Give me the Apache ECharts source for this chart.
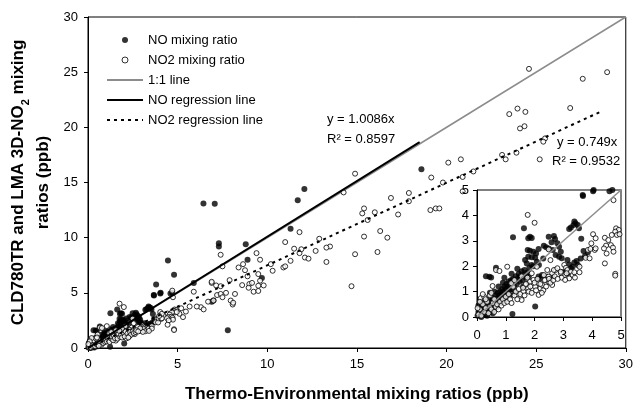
<!DOCTYPE html>
<html><head><meta charset="utf-8">
<script src="https://cdn.jsdelivr.net/npm/echarts@6/dist/echarts.min.js"></script>
<style>html,body{margin:0;padding:0;background:#fff}#c{width:636px;height:408px}</style>
</head><body><div id="c"></div>
<script>
// ---- data ----
var xTicks = [0, 5, 10, 15, 20, 25, 30];
var yTicks = [0, 5, 10, 15, 20, 25, 30];
var insetTicks = [0, 1, 2, 3, 4, 5];
var legendNames = ['NO mixing ratio', 'NO2 mixing ratio', '1:1 line', 'NO regression line', 'NO2 regression line'];
var noEquation = ['y = 1.0086x', 'R\u00b2 = 0.8597'];
var no2Equation = ['y = 0.749x', 'R\u00b2 = 0.9532'];

var noPoints = [
 [18.6,16.2],[12.07,14.4],[11.7,13.4],[6.44,13.1],[7.07,13.07],[11.3,10.8],[7.3,9.5],[7.3,9.2],[8.8,9.4],[8.9,8.0],
 [9.7,6.35],[4.46,7.94],[4.8,6.65],[3.8,5.76],[4.05,5.0],[3.67,4.8],[4.7,5.0],[5.9,5.9],[7.0,4.3],[6.9,4.2],[7.8,1.6],
 [3.68,4.76],[4.03,4.95],[4.6,4.95],[3.38,3.76],[3.42,3.69],[3.35,3.62],[3.5,3.62],[3.26,3.52],[3.2,3.46],[3.54,3.49],[3.62,3.08],
 [1.63,3.49],[1.84,3.16],[1.9,3.11],[1.78,3.1],[1.25,3.14],
 [2.49,3.16],[2.67,3.19],[2.71,3.07],[2.59,2.94],[2.79,2.9],[2.85,2.77],[2.49,2.7],[2.63,2.64],[2.91,2.57],[2.73,2.44],[2.85,2.37],[2.94,2.31],
 [2.14,2.68],[2.32,2.81],[2.4,2.75],[1.76,2.64],[1.84,2.61],[1.96,2.57],[2.05,2.5],
 [1.67,2.24],[1.78,2.37],[1.9,2.35],[2.02,2.33],[1.73,2.11],[1.9,2.05],[2.08,2.18],[1.82,1.94],[1.95,2.0],[2.15,2.05],
 [3.14,2.24],[3.2,2.07],[3.38,2.15],[3.46,2.2],[3.5,2.05],[3.32,1.98],[3.26,1.92],[3.09,1.81],[2.97,1.76],[3.14,1.72],
 [2.61,1.59],[2.44,1.52],[2.55,1.39],[2.08,1.46],[2.14,1.59],[2.2,1.52],[2.26,1.65],
 [0.66,1.94],[0.31,1.6],[0.43,1.58],[0.49,1.56],[2.02,0.41],[1.23,0.12],
 [0.02,0.05],[0.05,0.2],[0.08,0.1],[0.1,0.35],[0.12,0.05],[0.15,0.25],[0.18,0.5],[0.2,0.15],[0.22,0.4],[0.25,0.3],
 [0.28,0.6],[0.3,0.1],[0.32,0.45],[0.35,0.25],[0.38,0.55],[0.4,0.35],[0.42,0.7],[0.45,0.2],[0.48,0.5],[0.5,0.6],
 [0.52,0.4],[0.55,0.75],[0.58,0.5],[0.6,0.3],[0.62,0.65],[0.65,0.85],[0.68,0.55],[0.7,0.75],[0.72,0.95],[0.75,0.6],
 [0.78,0.85],[0.8,1.0],[0.82,0.7],[0.85,0.9],[0.88,1.1],[0.9,0.8],[0.92,1.0],[0.95,1.2],[0.98,0.9],[1.0,1.1],
 [1.02,1.3],[1.05,0.95],[1.08,1.2],[1.1,1.4],[1.12,1.05],[1.15,1.25],[1.18,1.45],[1.2,1.1],[1.22,1.35],[1.25,1.5],
 [1.28,1.2],[1.3,1.4],[1.35,1.6],[1.38,1.3],[1.4,1.5],[1.45,1.7],[1.48,1.4],[1.5,1.6],[1.55,1.8],[1.58,1.45],
 [1.6,1.65],[1.65,1.85],[1.7,1.55],[1.75,1.75],[1.8,1.6],[0.15,0.0],[0.35,0.05],[0.05,0.45],[0.1,0.6],[0.25,0.7],
 [0.6,1.0],[0.45,0.95],[0.75,1.2],[0.9,1.35],[0.55,0.15],[0.7,0.4],[0.85,0.55],[1.0,0.7],[1.15,0.85],[1.3,0.95],
 [1.6,1.2],[1.75,1.3],[3.7,2.6],[3.85,2.55],[3.6,2.3],[3.75,2.4],[1.4,1.9],[1.2,1.7],[0.95,1.55],[2.3,2.3]
];

var no2Points = [
 [24.6,25.3],[27.6,24.4],[28.96,25.0],[23.5,21.2],[23.96,21.7],[24.4,21.4],[26.9,21.75],[24.1,19.9],[24.35,20.1],[25.5,19.0],
 [25.4,18.7],[25.2,17.1],[23.1,17.5],[23.3,17.1],[23.9,17.7],[14.9,15.8],[20.1,16.8],[20.8,17.1],[21.5,16.0],[20.9,15.5],
 [19.15,15.45],[19.8,15.0],[17.9,14.05],[16.9,13.6],[14.26,14.1],[20.9,14.2],[13.5,9.2],[17.9,13.3],[17.3,12.1],[15.3,12.2],
 [15.4,12.65],[16.0,12.3],[15.6,11.6],[15.4,10.1],[16.3,10.6],[16.7,10.0],[14.9,8.5],[16.15,8.7],[14.7,5.6],[19.1,12.5],
 [19.4,12.65],[19.6,12.65],
 [7.4,8.45],[9.4,8.6],[9.6,8.0],[11.0,9.6],[11.8,10.5],[11.5,9.0],[11.8,8.6],[11.9,8.95],[12.1,8.2],[12.3,8.1],
 [12.7,8.8],[12.9,9.9],[13.3,9.1],[13.3,7.8],[11.3,7.9],[10.9,7.3],[11.0,7.4],[10.2,7.6],[10.3,7.0],[8.65,7.6],
 [8.76,7.05],[8.4,7.3],[8.9,6.5],[9.5,6.7],[9.6,6.1],[8.6,5.7],[9.0,5.8],[9.15,5.9],[8.96,5.46],[9.24,5.1],
 [9.5,5.64],[9.5,5.17],[9.8,5.67],[7.9,6.15],[6.9,5.9],[7.15,5.67],[7.4,5.6],[7.2,4.8],[7.4,4.9],[7.7,5.0],
 [7.5,4.6],[7.96,4.3],[8.07,3.94],[8.2,4.9],[7.5,7.4],[5.9,5.1],[6.9,6.0],[4.8,1.7],[6.3,3.7],[6.45,3.5],
 [6.07,3.76],[5.67,3.76],[5.46,3.3],[5.2,3.6],[4.7,5.2],[8.1,4.1],[6.7,4.2],[7.0,4.3],[5.3,2.8],[5.1,3.1],
 [3.85,2.64],[3.94,2.68],[4.09,2.64],[4.12,2.7],[3.77,2.33],[3.91,2.31],[4.74,4.6],[4.03,3.26],[4.12,3.1],[3.97,2.9],
 [4.83,3.49],[4.92,3.43],[4.8,3.36],[4.86,3.23],[4.95,3.26],[4.68,3.23],[4.44,3.12],[4.56,3.03],[4.48,2.81],[4.65,2.83],
 [4.72,2.73],[4.74,2.57],[4.41,2.7],[4.5,2.5],[4.44,2.11],[4.8,1.63],
 [3.03,2.05],[3.09,1.94],[3.14,1.85],[3.26,1.78],[3.32,1.65],[3.03,1.65],[2.91,1.72],[3.11,1.72],[2.94,1.55],[3.2,1.52],
 [3.06,1.46],[3.38,1.76],[3.56,1.98],[3.56,1.76],[2.73,1.85],[2.61,1.72],[2.44,1.59],[2.49,1.39],[2.61,1.26],
 [1.76,4.02],[2.0,3.71],[1.05,1.98],[0.66,1.85],[0.78,1.81],[0.54,1.22],[0.13,0.74],[0.25,0.8],
 [2.49,2.66],[2.55,2.24],[2.44,1.85],[2.32,1.65],[2.49,1.59],[2.38,1.46],[2.14,1.33],[2.2,1.13],[2.26,1.26],[1.84,1.39],
 [1.67,1.26],[1.78,1.13],[1.61,1.0],[1.49,0.8],[1.55,0.67],[1.37,0.87],[1.25,1.19],[1.19,1.33],[1.96,1.46],[2.08,1.98],
 [1.9,1.72],[2.02,1.19],[2.14,0.87],[2.67,1.85],[2.79,1.92],[2.91,1.78],
 [0.05,0.1],[0.1,0.3],[0.15,0.05],[0.2,0.5],[0.25,0.2],[0.3,0.35],[0.35,0.6],[0.4,0.15],[0.45,0.4],[0.5,0.3],
 [0.55,0.55],[0.6,0.7],[0.65,0.4],[0.7,0.5],[0.75,0.3],[0.8,0.6],[0.85,0.45],[0.9,0.7],[0.95,0.55],[1.0,0.8],
 [1.05,0.6],[1.1,0.9],[1.15,0.7],[1.2,0.55],[1.3,0.85],[1.35,1.0],[1.4,0.7],[1.45,1.1],[1.5,0.9],[1.6,1.15],
 [1.65,0.85],[1.7,1.3],[1.8,1.0],[1.85,1.2],[1.9,0.95],[2.0,1.35],[2.05,1.05],[2.1,1.5],[2.2,1.3],[2.3,1.05],
 [2.35,1.45],[2.4,1.2],[2.5,1.5],[2.55,1.35],[2.65,1.45],[2.7,1.6],[2.8,1.5],[0.3,0.7],[0.45,0.85],[0.2,0.9],
 [0.6,0.2],[0.1,0.6],[0.02,0.35],[0.5,0.95],[1.3,1.45],[1.55,1.6],[1.75,1.55],[2.25,0.95],[3.4,1.55]
];

var oneToOneLine = [[0, 0], [30, 30]];
var insetOneToOneLine = [[0, 0], [5, 5]];
var noRegressionLine = [[0, 0], [18.5, 18.66]];
var no2RegressionLine = [[0, 0], [28.6, 21.42]];

// ---- chart ----
var FONT = 'Arial, "Liberation Sans", sans-serif';
var insetNo = noPoints.filter(function (p) { return p[0] <= 5 && p[1] <= 5; });
var insetNo2 = no2Points.filter(function (p) { return p[0] <= 5 && p[1] <= 5; });

var chart = echarts.init(document.getElementById('c'), null, {renderer: 'canvas'});
var hiddenSym = {opacity: 0, color: 'transparent', borderWidth: 0};

var option = {
  animation: false,
  backgroundColor: '#fff',
  textStyle: {fontFamily: FONT},
  grid: [
    {left: 88, top: 17, width: 540, height: 335, show: true, borderColor: '#000', borderWidth: 1, backgroundColor: 'transparent'},
    {left: 477, top: 190, width: 144, height: 127, show: true, borderColor: '#000', borderWidth: 1, backgroundColor: '#fff', z: 5}
  ],
  xAxis: [
    {gridIndex: 0, type: 'value', min: xTicks[0], max: xTicks[xTicks.length - 1], interval: 5,
     splitLine: {show: false}, axisLine: {lineStyle: {color: '#000', width: 1}},
     axisTick: {inside: false, length: 4, lineStyle: {color: '#000'}},
     axisLabel: {color: '#000', fontSize: 13, margin: 10, fontFamily: FONT},
     name: 'Thermo-Environmental mixing ratios (ppb)', nameLocation: 'middle', nameGap: 38,
     nameTextStyle: {fontSize: 17, fontWeight: 'bold', color: '#000', fontFamily: FONT}},
    {gridIndex: 1, type: 'value', min: insetTicks[0], max: insetTicks[insetTicks.length - 1], interval: 1, z: 6,
     splitLine: {show: false}, axisLine: {lineStyle: {color: '#000', width: 1}},
     axisTick: {length: 4, lineStyle: {color: '#000'}},
     axisLabel: {color: '#000', fontSize: 13, margin: 12, fontFamily: FONT}}
  ],
  yAxis: [
    {gridIndex: 0, type: 'value', min: yTicks[0], max: yTicks[yTicks.length - 1], interval: 5,
     splitLine: {show: false}, axisLine: {show: true, lineStyle: {color: '#000', width: 1}},
     axisTick: {show: true, length: 4, lineStyle: {color: '#000'}},
     axisLabel: {color: '#000', fontSize: 13, margin: 10, fontFamily: FONT},
     name: '{b|CLD780TR and LMA 3D-NO}{s|2}{b| mixing}\n{b|ratios (ppb)}', nameLocation: 'middle', nameGap: 32,
     nameTextStyle: {color: '#000', fontFamily: FONT, rich: {
       b: {fontSize: 17, fontWeight: 'bold', lineHeight: 25, color: '#000', fontFamily: FONT},
       s: {fontSize: 11, fontWeight: 'bold', lineHeight: 14, verticalAlign: 'bottom', color: '#000', fontFamily: FONT}
     }}},
    {gridIndex: 1, type: 'value', min: insetTicks[0], max: insetTicks[insetTicks.length - 1], interval: 1, z: 6,
     splitLine: {show: false}, axisLine: {show: true, lineStyle: {color: '#000', width: 1}},
     axisTick: {show: true, length: 4, lineStyle: {color: '#000'}},
     axisLabel: {color: '#000', fontSize: 13, margin: 8, fontFamily: FONT}},
    {gridIndex: 1, type: 'value', position: 'right', min: 0, max: 5, interval: 1, z: 6,
     splitLine: {show: false}, axisLine: {show: true, lineStyle: {color: '#808080', width: 2}},
     axisTick: {show: false}, axisLabel: {show: false}}
  ],
  legend: {
    orient: 'vertical', left: 106, top: 33, padding: 0, itemWidth: 36, itemHeight: 6, itemGap: 6,
    textStyle: {fontSize: 13, lineHeight: 14, color: '#000', fontFamily: FONT},
    selectedMode: false,
    data: [
      {name: legendNames[0]},
      {name: legendNames[1], itemStyle: {color: '#fff', borderColor: '#000', borderWidth: 1}},
      {name: legendNames[2], itemStyle: hiddenSym},
      {name: legendNames[3], itemStyle: hiddenSym},
      {name: legendNames[4], itemStyle: hiddenSym}
    ]
  },
  graphic: [
    {type: 'text', left: 327, top: 113, style: {text: noEquation[0], font: '13px ' + FONT, fill: '#000'}},
    {type: 'text', left: 327, top: 133, style: {text: noEquation[1], font: '13px ' + FONT, fill: '#000'}},
    {type: 'text', left: 557, top: 136, style: {text: no2Equation[0], font: '13px ' + FONT, fill: '#000'}},
    {type: 'text', left: 552, top: 155, style: {text: no2Equation[1], font: '13px ' + FONT, fill: '#000'}}
  ],
  series: [
    {name: legendNames[2], type: 'line', xAxisIndex: 0, yAxisIndex: 0, data: oneToOneLine, symbol: 'none',
     lineStyle: {color: '#8c8c8c', width: 1.5}, itemStyle: {color: '#8c8c8c'}, z: 2},
    {name: legendNames[0], type: 'scatter', xAxisIndex: 0, yAxisIndex: 0, data: noPoints, symbol: 'circle', symbolSize: 6,
     itemStyle: {color: '#000'}, z: 3},
    {name: legendNames[1], type: 'scatter', xAxisIndex: 0, yAxisIndex: 0, data: no2Points, symbol: 'circle', symbolSize: 5,
     itemStyle: {color: '#fff', borderColor: '#000', borderWidth: 1}, z: 3},
    {name: legendNames[3], type: 'line', xAxisIndex: 0, yAxisIndex: 0, data: noRegressionLine, symbol: 'none',
     lineStyle: {color: '#000', width: 2}, itemStyle: {color: '#000'}, z: 4},
    {name: legendNames[4], type: 'line', xAxisIndex: 0, yAxisIndex: 0, data: no2RegressionLine, symbol: 'none',
     lineStyle: {color: '#000', width: 2, type: [3, 4]}, itemStyle: {color: '#000'}, z: 4},
    {name: 'inset NO', type: 'scatter', xAxisIndex: 1, yAxisIndex: 1, data: insetNo, symbol: 'circle', symbolSize: 6,
     itemStyle: {color: '#000'}, z: 7, clip: false},
    {name: 'inset NO2', type: 'scatter', xAxisIndex: 1, yAxisIndex: 1, data: insetNo2, symbol: 'circle', symbolSize: 5,
     itemStyle: {color: '#fff', borderColor: '#000', borderWidth: 1}, z: 7, clip: false},
    {name: 'inset 1:1', type: 'line', xAxisIndex: 1, yAxisIndex: 1, data: insetOneToOneLine, symbol: 'none',
     lineStyle: {color: '#8c8c8c', width: 1.5}, z: 8}
  ]
};
chart.setOption(option);
</script></body></html>
